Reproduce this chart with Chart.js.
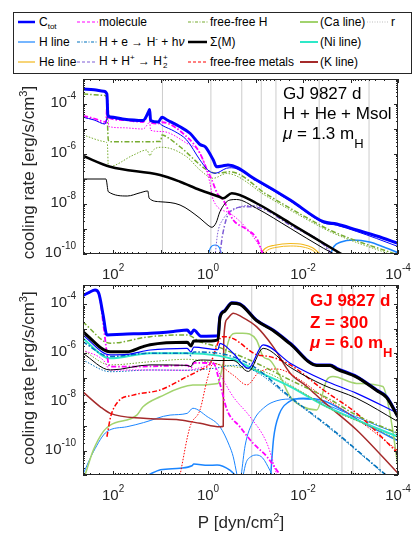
<!DOCTYPE html>
<html>
<head>
<meta charset="utf-8">
<title>GJ 9827 d cooling rates</title>
<script src="https://cdn.jsdelivr.net/npm/chart.js@4.4.1/dist/chart.umd.min.js"></script>
<style>
  html, body { margin: 0; padding: 0; background: #fff; }
  body { position: relative; width: 414px; height: 533px; overflow: hidden;
         font-family: "Liberation Sans", Arial, sans-serif; color: #262626; }
  #legendBox { position: absolute; left: 13px; top: 12px; width: 397px; height: 60px; border: 1px solid #262626; }
  .le { position: absolute; display: flex; align-items: center; transform: translateY(-50%);
        font-size: 12px; line-height: 14px; white-space: nowrap; color: #000; }
  .le sub, .le sup { font-size: 8px; line-height: 0; }
  .le sub { vertical-align: -3px; }
  .le sup { vertical-align: 5px; }
  .stack { display: inline-flex; flex-direction: column; font-size: 8px; line-height: 8px; vertical-align: middle; margin-left: 1px; }
  canvas { position: absolute; left: 0; }
</style>
</head>
<body>
<div id="legendBox"></div>
<div id="legend"></div>
<canvas id="topChart" width="414" height="204" style="top:76px"></canvas>
<canvas id="bottomChart" width="414" height="253" style="top:280px"></canvas>
<script>
// all series are [log10 P (dyn/cm2), log10 cooling rate (erg/s/cm3)]

// ---- top panel: H + He + Msol ----
var topCtot = [[2.63,-3.40],[2.40,-3.43],[2.20,-3.49],[2.13,-3.60],[2.11,-4.45],[2.05,-4.52],[1.80,-4.60],[1.37,-4.66],[1.25,-4.30],[1.23,-4.22],[1.21,-4.66],[1.05,-4.72],[0.97,-4.53],[0.86,-4.64],[0.60,-4.90],[0.38,-5.17],[0.17,-5.62],[0.06,-5.71],[-0.11,-6.24],[-0.18,-6.51],[-0.30,-6.48],[-0.42,-6.44],[-1.02,-7.04],[-1.73,-7.84],[-2.43,-8.71],[-2.71,-8.80],[-3.13,-9.04],[-3.55,-9.28],[-4.00,-9.57]];
var topCtotThin = [[2.63,-4.53],[2.40,-4.64],[2.17,-4.80],[2.11,-4.50],[2.05,-4.55],[1.80,-4.62],[1.37,-4.68],[1.25,-4.32],[1.23,-4.24],[1.21,-4.68],[1.05,-4.74],[0.97,-4.85],[0.70,-5.10],[0.45,-5.44],[0.17,-6.24],[0.00,-6.65],[-0.15,-6.77],[-0.39,-6.57],[-0.50,-6.55],[-1.02,-7.08],[-1.73,-7.88],[-2.43,-8.75],[-2.71,-8.85],[-3.13,-9.10],[-3.55,-9.38],[-4.00,-9.70]];
var topMol = [[2.63,-4.47],[2.40,-4.58],[2.15,-4.72],[2.12,-3.85],[2.09,-4.55],[1.80,-4.64],[1.37,-4.72],[1.25,-4.32],[1.23,-4.22],[1.21,-4.75],[1.05,-4.78],[0.97,-4.73],[0.45,-5.31],[0.17,-5.97],[0.02,-6.64],[-0.08,-7.04],[-0.20,-7.60],[-0.32,-7.84],[-0.53,-8.64],[-0.80,-9.00],[-1.03,-9.40],[-1.16,-10.05]];
var topMolThin = [[2.63,-4.53],[2.40,-4.62],[2.15,-4.80],[2.12,-4.00],[2.09,-4.90],[1.80,-4.95],[1.37,-5.00],[1.25,-4.75],[1.23,-4.70],[1.21,-5.05],[0.97,-5.10],[0.45,-5.57],[0.17,-5.97],[-0.04,-7.16],[-0.11,-7.84],[-0.46,-8.37],[-0.81,-8.97],[-1.09,-9.70],[-1.20,-10.05]];
var topFfH = [[2.63,-3.60],[2.20,-3.65],[2.14,-3.72],[2.10,-5.45],[2.05,-5.51],[1.50,-5.51],[1.00,-5.50],[0.97,-5.24],[0.90,-5.28],[0.59,-5.71],[0.02,-6.64],[-0.18,-6.77],[-0.46,-6.71],[-1.24,-7.62],[-1.94,-8.40],[-2.63,-9.10],[-4.00,-10.04]];
var topFfHThin = [[2.63,-5.24],[2.17,-5.51],[2.12,-5.60],[2.10,-6.51],[1.57,-6.04],[1.29,-5.84],[1.22,-6.07],[1.18,-5.90],[0.97,-5.73],[0.45,-6.11],[0.17,-6.64],[-0.11,-6.97],[-0.39,-6.78],[-1.24,-7.70],[-1.94,-8.47],[-2.63,-9.16],[-4.00,-10.12]];
var topSum = [[2.63,-6.08],[2.06,-6.51],[1.01,-6.84],[0.59,-7.11],[0.17,-7.44],[-0.25,-7.72],[-0.32,-7.77],[-0.50,-7.57],[-1.02,-7.97],[-1.73,-8.77],[-2.43,-9.57],[-2.85,-10.05]];
var topSumThin = [[2.63,-7.00],[2.15,-7.00],[2.10,-7.51],[1.70,-7.68],[1.43,-7.55],[1.27,-7.48],[1.24,-7.77],[1.01,-7.91],[0.59,-8.04],[0.17,-8.57],[0.00,-8.85],[-0.08,-8.93],[-0.17,-8.75],[-0.25,-8.31],[-0.46,-7.84],[-0.60,-7.82],[-1.02,-8.17],[-1.73,-8.97],[-2.43,-9.77],[-2.71,-10.05]];
var topH2p = [[-0.25,-10.05],[-0.30,-9.30],[-0.46,-8.31],[-0.81,-8.11],[-1.16,-8.20],[-1.73,-8.85],[-2.43,-9.62],[-2.62,-10.05]];
var topH2pThin = [[-0.15,-10.05],[-0.20,-9.20],[-0.32,-8.60],[-0.55,-8.22],[-0.85,-8.06],[-1.16,-8.14],[-1.73,-8.80],[-2.43,-9.58],[-2.64,-10.05]];
var topHe = [[-1.09,-10.05],[-1.20,-9.78],[-1.40,-9.65],[-1.73,-9.58],[-2.00,-9.62],[-2.20,-9.75],[-2.39,-10.05]];
var topHeThin = [[-1.15,-10.05],[-1.25,-9.85],[-1.45,-9.73],[-1.73,-9.68],[-2.00,-9.72],[-2.20,-9.85],[-2.33,-10.05]];
var topHline1 = [[0.00,-10.05],[-0.05,-9.75],[-0.15,-9.64],[-0.24,-9.75],[-0.29,-10.05]];
var topHline2 = [[-2.57,-10.05],[-2.65,-9.70],[-2.80,-9.52],[-3.06,-9.44],[-3.40,-9.52],[-3.70,-9.72],[-4.00,-9.95]];
var topR = [0.96, -0.06, -0.71, -1.12, -1.43, -2.34, -3.39];

// ---- bottom panel: Z = 300 ----
var botCtot = [[2.64,-3.64],[2.50,-3.50],[2.38,-3.41],[2.30,-3.55],[2.21,-4.43],[2.13,-5.25],[1.80,-5.22],[1.22,-5.18],[0.70,-5.10],[0.44,-5.05],[0.36,-5.20],[0.30,-5.05],[0.15,-5.30],[-0.21,-5.28],[-0.25,-4.50],[-0.35,-4.25],[-0.50,-3.93],[-0.67,-3.98],[-1.02,-4.64],[-1.37,-5.05],[-1.73,-5.59],[-2.29,-6.48],[-2.57,-6.48],[-2.71,-6.62],[-3.13,-6.96],[-3.55,-7.51],[-3.76,-7.79],[-4.00,-8.60]];
var botSum = [[2.64,-5.12],[2.06,-5.94],[1.70,-5.94],[1.40,-5.75],[1.22,-5.65],[0.44,-5.55],[0.36,-5.70],[0.30,-5.50],[0.00,-5.50],[-0.21,-5.45],[-0.25,-4.55],[-0.35,-4.28],[-0.50,-3.95],[-0.67,-4.00],[-1.02,-4.66],[-1.37,-5.07],[-1.73,-5.62],[-2.29,-6.50],[-2.57,-6.50],[-2.71,-6.65],[-3.13,-6.98],[-3.55,-7.53],[-3.76,-7.82],[-4.00,-8.62]];
var botCtotThin = [[2.64,-5.25],[2.06,-6.07],[1.70,-6.05],[1.22,-5.87],[0.44,-5.80],[0.36,-5.95],[0.30,-5.75],[-0.21,-5.85],[-0.25,-5.60],[-0.53,-6.00],[-0.85,-6.62],[-1.16,-5.66],[-1.73,-6.41],[-2.43,-7.10],[-3.13,-7.65],[-4.00,-8.47]];
var botSumThin = [[2.64,-6.00],[2.06,-6.69],[1.22,-6.48],[0.44,-6.50],[0.36,-6.55],[0.30,-6.35],[0.10,-6.28],[-0.21,-6.30],[-0.53,-6.30],[-0.85,-6.75],[-1.16,-5.80],[-1.73,-6.58],[-2.43,-7.31],[-3.13,-7.85],[-4.00,-8.81]];
var botFfH = [[2.64,-4.71],[2.06,-5.59],[1.22,-5.32],[0.44,-5.25],[0.17,-5.53],[-0.19,-5.73],[-0.53,-6.00],[-0.90,-6.30],[-1.73,-7.10],[-2.57,-7.90],[-3.13,-8.55],[-4.00,-9.29]];
var botFfHThin = [[2.64,-5.87],[2.06,-6.48],[1.22,-6.35],[0.44,-6.25],[0.17,-6.30],[-0.21,-6.45],[-0.53,-6.55],[-1.24,-6.80],[-1.94,-7.55],[-2.63,-8.35],[-3.35,-8.95],[-4.00,-9.55]];
var botHm = [[2.64,-5.53],[2.06,-6.14],[1.22,-6.00],[0.44,-6.00],[0.36,-6.10],[0.30,-5.95],[-0.21,-6.00],[-0.53,-6.15],[-1.00,-6.60],[-1.70,-7.75],[-2.60,-9.10],[-3.70,-10.92],[-3.75,-11.00]];
var botHmThin = [[2.64,-6.28],[2.06,-6.76],[1.22,-6.69],[0.44,-6.70],[-0.21,-6.60],[-0.53,-6.50],[-1.00,-6.75],[-1.70,-7.80],[-2.60,-9.15],[-3.70,-10.95],[-3.73,-11.00]];
var botNi = [[2.64,-5.39],[2.06,-6.21],[1.22,-6.00],[0.44,-6.00],[-0.21,-6.10],[-0.53,-6.25],[-1.10,-6.80],[-1.73,-7.37],[-2.43,-8.13],[-3.13,-8.74],[-4.00,-9.43]];
var botCa = [[2.59,-11.00],[2.42,-10.00],[2.20,-9.20],[2.06,-8.95],[1.50,-8.54],[1.37,-8.20],[1.01,-7.79],[0.32,-7.31],[-0.21,-7.24],[-0.25,-7.00],[-0.45,-5.40],[-0.59,-5.18],[-0.73,-5.18],[-1.02,-5.46],[-1.16,-6.14],[-1.30,-6.28],[-1.52,-6.96],[-1.73,-7.79],[-2.00,-8.20],[-2.29,-8.33],[-2.50,-7.10],[-2.63,-6.96],[-3.13,-7.24],[-3.68,-7.37],[-3.83,-8.47],[-4.00,-10.66]];
var botK = [[2.64,-7.58],[2.27,-8.20],[2.06,-8.47],[1.36,-8.67],[0.59,-8.74],[0.17,-8.88],[-0.25,-9.02],[-0.32,-9.00],[-0.33,-5.50],[-0.40,-4.60],[-0.53,-4.36],[-0.70,-4.50],[-1.02,-4.91],[-1.37,-5.73],[-1.73,-6.82],[-2.08,-7.37],[-2.43,-7.99],[-3.13,-9.15],[-4.00,-10.93]];
var botFfM = [[2.13,-9.43],[2.05,-8.60],[1.90,-8.00],[1.58,-7.72],[1.01,-7.51],[0.44,-6.96],[0.17,-6.69],[-0.05,-6.40],[-0.25,-5.40],[-0.32,-5.32],[-0.53,-5.40],[-1.02,-6.06],[-1.30,-6.14],[-1.73,-6.48],[-2.43,-7.51],[-3.13,-8.47],[-4.00,-10.11]];
var botFfMThin = [[0.59,-11.00],[0.38,-9.02],[0.17,-8.33],[0.02,-7.10],[-0.11,-6.41],[-0.53,-6.90],[-0.82,-7.30],[-1.09,-6.75],[-1.45,-6.65],[-1.94,-7.10],[-2.43,-7.80],[-3.13,-8.70],[-4.00,-10.00]];
var botMol = [[2.64,-3.64],[2.50,-3.50],[2.38,-3.41],[2.30,-3.55],[2.20,-4.90],[2.10,-6.40],[2.06,-6.55],[1.50,-6.55],[0.44,-6.50],[0.36,-6.60],[0.30,-6.40],[-0.11,-6.41],[-0.25,-7.24],[-0.40,-8.33],[-0.67,-9.02],[-0.95,-9.70],[-1.24,-10.25],[-1.52,-11.00]];
var botMolThin = [[2.64,-5.87],[2.20,-6.30],[2.06,-6.69],[1.22,-6.69],[0.44,-6.70],[0.17,-6.60],[-0.11,-6.45],[-0.20,-6.70],[-0.53,-7.79],[-0.88,-8.60],[-1.24,-9.70],[-1.45,-11.00]];
var botHline1 = [[2.64,-11.00],[2.41,-10.03],[2.13,-9.22],[1.71,-9.02],[1.36,-8.85],[0.80,-8.54],[0.44,-8.47],[0.32,-8.26],[0.02,-8.60],[-0.25,-9.02],[-0.45,-9.80],[-0.53,-10.25],[-0.61,-11.00]];
var botHline2 = [[1.26,-11.00],[1.00,-10.78],[0.59,-10.72],[0.34,-10.62],[0.30,-10.55],[0.00,-10.60],[-0.19,-10.59],[-0.46,-10.80],[-0.57,-11.00]];
var botHline3 = [[-0.74,-11.00],[-0.80,-10.50],[-0.90,-10.25],[-1.02,-10.18],[-1.15,-10.30],[-1.30,-10.80],[-1.35,-11.00]];
var botHline4 = [[-0.70,-11.00],[-0.78,-9.80],[-0.95,-8.80],[-1.20,-8.20],[-1.45,-7.95],[-1.80,-7.88],[-2.20,-7.90],[-2.60,-8.20],[-3.10,-8.60],[-3.60,-9.00],[-4.00,-9.30]];
var botHline5 = [[-1.32,-11.00],[-1.38,-9.50],[-1.50,-8.50],[-1.70,-8.00],[-2.00,-7.85],[-2.43,-7.95],[-2.80,-8.30],[-3.30,-8.90],[-3.70,-9.30],[-4.00,-9.60]];
var botR = [-0.92, -1.79, -2.82, -3.05, -3.62];

// axis ranges and tick labels (decade exponents)
var xRange = [1e-4, 430];
var topYRange = [1e-10, 1e-3];
var botYRange = [1e-11, 6.3e-4];
var xTickExps = [2, 0, -2, -4];
var yTickExps = [-4, -6, -8, -10];

var FONT = '"Liberation Sans", Arial, sans-serif';
var col = { blue: '#0000ff', mag: '#ff00ff', grn: '#77ac30', blk: '#000000', pur: '#7e5cd6', yel: '#f2b81c',
            hl: '#1a85ff', hm: '#0072bd', ca: '#a2d36e', ni: '#2ee8c8', red: '#ff0000', brn: '#a52a2a', r: '#cccccc' };
var DD = [5, 2, 1.5, 2];
var DOT = [1.5, 1.5];

// legend (html, so sub/superscripts stay real text)
var legendEntries = [
  [18, 22, 17, 4, col.blue, 2.5, '', 'C<sub>tot</sub>'],
  [77, 22, 21, 1, col.mag, 1.2, '3,2', 'molecule'],
  [188, 22, 20, 2, col.grn, 1.2, '3,1.5,1,1.5', 'free-free H'],
  [300, 22, 18, 2, col.ca, 2, '', '(Ca line)'],
  [367, 22, 21, 3, '#bdbdbd', 1, '1,1.5', 'r'],
  [18, 42, 17, 4, col.hl, 1.2, '', 'H line'],
  [77, 42, 20, 2, col.hm, 1.2, '3,1.5,1,1.5', 'H + e \u2192 H<sup>-</sup> + h<i>\u03bd</i>'],
  [188, 42, 19, 3, col.blk, 2.5, '', '\u03a3(M)'],
  [300, 42, 18, 2, col.ni, 2, '', '(Ni line)'],
  [18, 62, 17, 4, col.yel, 1.2, '', 'He line'],
  [77, 62, 20, 2, col.pur, 1.2, '3,2', 'H + H<sup>+</sup> \u2192 H<span class="stack"><span>+</span><span>2</span></span>'],
  [188, 62, 20, 2, col.red, 1.2, '3,2', 'free-free metals'],
  [300, 62, 18, 2, col.brn, 2, '', '(K line)']
];
var legendDiv = document.getElementById('legend');
legendEntries.forEach(function (e) {
  var d = document.createElement('div');
  d.className = 'le';
  d.style.left = e[0] + 'px';
  d.style.top = e[1] + 'px';
  d.innerHTML = '<svg width="' + e[2] + '" height="6" style="margin-right:' + e[3] + 'px"><line x1="0" y1="3" x2="' + e[2] +
    '" y2="3" stroke="' + e[4] + '" stroke-width="' + e[5] + '"' + (e[6] ? ' stroke-dasharray="' + e[6] + '"' : '') + '/></svg><span>' + e[7] + '</span>';
  legendDiv.appendChild(d);
});

function pts(arr) {
  return arr.map(function (p) { return { x: Math.pow(10, p[0]), y: Math.pow(10, p[1]) }; });
}
function layer(data, color, width, dash) {
  return { data: pts(data), borderColor: color, borderWidth: width, borderDash: dash || [],
           pointRadius: 0, fill: false, cubicInterpolationMode: 'monotone', borderJoinStyle: 'round' };
}
function rLayers(list, yr) {
  return list.map(function (lp) {
    return { data: [{ x: Math.pow(10, lp), y: yr[0] }, { x: Math.pow(10, lp), y: yr[1] }],
             borderColor: col.r, borderWidth: 1, pointRadius: 0, fill: false };
  });
}

function drawParts(ctx, parts, x, y) {
  var cx = x;
  parts.forEach(function (p) {
    ctx.font = p.f;
    ctx.fillText(p.t, cx, y + (p.dy || 0));
    cx += ctx.measureText(p.t).width;
  });
  return cx - x;
}
function partsWidth(ctx, parts) {
  var w = 0;
  parts.forEach(function (p) { ctx.font = p.f; w += ctx.measureText(p.t).width; });
  return w;
}
function powLabel(ctx, exp, x, y, align) {
  var parts = [{ t: '10', f: '15px ' + FONT }, { t: String(exp), f: '10px ' + FONT, dy: -8 }];
  var w = partsWidth(ctx, parts);
  drawParts(ctx, parts, align === 'right' ? x - w : x - w / 2, y);
}

// MATLAB-like box, ticks, labels and annotations
var matlabAxes = {
  id: 'matlabAxes',
  afterDatasetsDraw: function (chart, args, o) {
    var ctx = chart.ctx, a = chart.chartArea, xs = chart.scales.x, ys = chart.scales.y;
    ctx.save();
    ctx.strokeStyle = '#262626';
    ctx.fillStyle = '#262626';
    ctx.lineWidth = 1;
    ctx.beginPath();
    for (var e = -12; e <= 3; e++) {
      for (var k = 1; k <= 9; k++) {
        var v = k * Math.pow(10, e), len = k === 1 ? 4 : 2;
        if (v >= xs.min * 0.999 && v <= xs.max * 1.001) {
          var px = Math.round(xs.getPixelForValue(v)) + 0.5;
          ctx.moveTo(px, a.bottom); ctx.lineTo(px, a.bottom - len);
          ctx.moveTo(px, a.top); ctx.lineTo(px, a.top + len);
        }
        if (v >= ys.min * 0.999 && v <= ys.max * 1.001) {
          var py = Math.round(ys.getPixelForValue(v)) + 0.5;
          ctx.moveTo(a.left, py); ctx.lineTo(a.left + len, py);
          ctx.moveTo(a.right, py); ctx.lineTo(a.right - len, py);
        }
      }
    }
    ctx.stroke();
    ctx.strokeRect(a.left + 0.5, a.top + 0.5, a.width - 1, a.height - 1);

    ctx.textAlign = 'left';
    ctx.textBaseline = 'alphabetic';
    xTickExps.forEach(function (ex) {
      powLabel(ctx, ex, xs.getPixelForValue(Math.pow(10, ex)), a.bottom + 25, 'center');
    });
    yTickExps.forEach(function (ex) {
      powLabel(ctx, ex, a.left - 7, ys.getPixelForValue(Math.pow(10, ex)) + 3, 'right');
    });

    // y title
    var yt = [{ t: 'cooling rate [erg/s/cm', f: '17px ' + FONT }, { t: '3', f: '11px ' + FONT, dy: -7 }, { t: ']', f: '17px ' + FONT }];
    ctx.save();
    ctx.translate(34, o.yTitleY);
    ctx.rotate(-Math.PI / 2);
    drawParts(ctx, yt, -partsWidth(ctx, yt) / 2, 0);
    ctx.restore();

    if (o.xTitle) {
      var xt = [{ t: 'P [dyn/cm', f: '17px ' + FONT }, { t: '2', f: '11px ' + FONT, dy: -7 }, { t: ']', f: '17px ' + FONT }];
      drawParts(ctx, xt, 241 - partsWidth(ctx, xt) / 2, a.bottom + 53);
    }

    ctx.fillStyle = o.noteColor;
    o.notes.forEach(function (n) { drawParts(ctx, n.parts, n.x, n.y); });
    ctx.restore();
  }
};

function buildChart(id, layers, rList, yr, padBottom, axisOpts) {
  return new Chart(document.getElementById(id), {
    type: 'line',
    data: { datasets: layers.concat(rLayers(rList, yr)) },
    options: {
      responsive: false,
      animation: false,
      events: [],
      layout: { padding: { left: 83, right: 16, top: axisOpts.padTop, bottom: padBottom } },
      plugins: { legend: { display: false }, tooltip: { enabled: false }, matlabAxes: axisOpts },
      scales: {
        x: { type: 'logarithmic', reverse: true, min: xRange[0], max: xRange[1], display: false },
        y: { type: 'logarithmic', min: yr[0], max: yr[1], display: false }
      }
    },
    plugins: [matlabAxes]
  });
}

var F17 = '17px ' + FONT, F17i = 'italic 17px ' + FONT, F13 = '13px ' + FONT;
var B17 = 'bold 17px ' + FONT, B17i = 'italic bold 17px ' + FONT, B13 = 'bold 13px ' + FONT;

buildChart('topChart', [
  layer(topCtot, col.blue, 3),
  layer(topSum, col.blk, 2.5),
  layer(topCtotThin, col.blue, 1),
  layer(topSumThin, col.blk, 1),
  layer(topMol, col.mag, 1.8, DD),
  layer(topMolThin, col.mag, 1, DOT),
  layer(topFfH, col.grn, 1.5, DD),
  layer(topFfHThin, col.grn, 1, DOT),
  layer(topH2p, col.pur, 1.5, DD),
  layer(topH2pThin, col.pur, 1, DOT),
  layer(topHe, col.yel, 1.2),
  layer(topHeThin, col.yel, 1),
  layer(topHline1, col.hl, 1.2),
  layer(topHline2, col.hl, 1.5)
], topR, topYRange, 26, {
  padTop: 3, yTitleY: 96.5, xTitle: false, noteColor: '#000',
  notes: [
    { x: 283, y: 22.7, parts: [{ t: 'GJ 9827 d', f: F17 }] },
    { x: 283, y: 43.3, parts: [{ t: 'H + He + Msol', f: F17 }] },
    { x: 283, y: 63.3, parts: [{ t: '\u03bc', f: F17i }, { t: ' = 1.3 m', f: F17 }, { t: 'H', f: F13, dy: 9 }] }
  ]
});

buildChart('bottomChart', [
  layer(botSum, col.blk, 3),
  layer(botCtot, col.blue, 3),
  layer(botSumThin, col.blk, 1),
  layer(botCtotThin, col.blue, 1.2),
  layer(botMol, col.mag, 1.8, DD),
  layer(botMolThin, col.mag, 1, DOT),
  layer(botFfH, col.grn, 1.5, DD),
  layer(botFfHThin, col.grn, 1, DOT),
  layer(botHm, col.hm, 1.5, DD),
  layer(botHmThin, col.hm, 1, DOT),
  layer(botNi, col.ni, 2),
  layer(botFfM, col.red, 1.5, DD),
  layer(botFfMThin, col.red, 1, DOT),
  layer(botK, col.brn, 1.5),
  layer(botCa, col.ca, 1.5),
  layer(botHline1, col.hl, 1),
  layer(botHline2, col.hl, 1.5),
  layer(botHline3, col.hl, 1),
  layer(botHline4, col.hl, 1),
  layer(botHline5, col.hl, 1.5)
], botR, botYRange, 58, {
  padTop: 5, yTitleY: 98, xTitle: true, noteColor: '#ff0000',
  notes: [
    { x: 310, y: 26, parts: [{ t: 'GJ 9827 d', f: B17 }] },
    { x: 310, y: 47.7, parts: [{ t: 'Z = 300', f: B17 }] },
    { x: 310, y: 67.7, parts: [{ t: '\u03bc', f: B17i }, { t: ' = 6.0 m', f: B17 }, { t: 'H', f: B13, dy: 9 }] }
  ]
});
</script>
</body>
</html>
